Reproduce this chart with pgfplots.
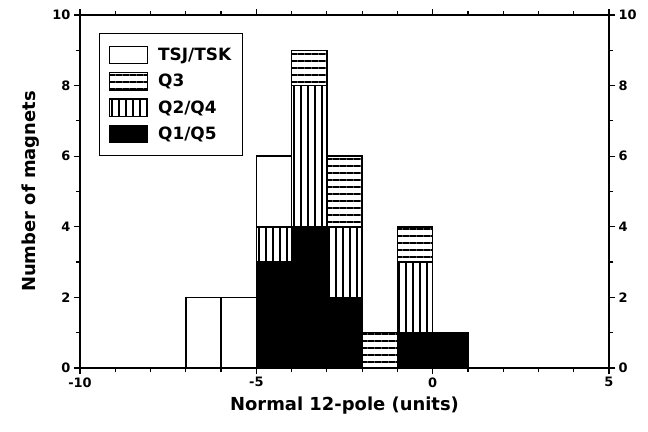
\documentclass[border=0pt]{standalone}
\usepackage{fontspec}
\setmainfont{DejaVu Sans}
\usepackage{pgfplots}
\pgfplotsset{compat=1.18}
\usetikzlibrary{patterns.meta}

\pgfplotsset{
  histframe/.style={
    scale only axis, width=529bp, height=353bp,
    at={(0,0)}, anchor=south west,
    xmin=-10, xmax=5, ymin=0, ymax=10,
    xtick={-10,-5,0,5}, minor x tick num=4,
    ytick={0,2,...,10}, minor y tick num=1,
    tick align=outside,
    major tick length=6bp, minor tick length=4bp,
    axis line style={line width=1.4bp},
    every tick/.style={black, line width=1.2bp},
    /pgf/number format/assume math mode=true,
    ticklabel style={font=\fontsize{13}{15}\selectfont\bfseries},
  },
}

\begin{document}
\begin{tikzpicture}
\useasboundingbox (-80bp,-64bp) rectangle (568bp,368bp);

\begin{axis}[
  histframe,
  ybar stacked, bar width=1,
  xlabel={Normal 12-pole (units)},
  ylabel={Number of magnets},
  label style={font=\fontsize{18}{20}\selectfont\bfseries},
  xlabel style={at={(axis description cs:0.5,-0.105)}, anchor=center},
  ylabel style={at={(axis description cs:-0.094,0.5)}, anchor=center},
  reverse legend,
  legend cell align=left,
  legend style={at={(axis description cs:0.036,0.949)}, anchor=north west,
    draw=black, line width=1.4bp, inner xsep=9bp, inner ysep=12bp,
    row sep=8bp, column sep=8bp,
    font=\fontsize{17}{18}\selectfont\bfseries},
  legend image code/.code={\draw[#1, line width=1.4bp] (0bp,-8.5bp) rectangle (38bp,8.5bp);},
]
% Q1/Q5
\addplot[draw=black, line width=1.5bp, fill=black] coordinates {
  (-6.5,0) (-5.5,0) (-4.5,3) (-3.5,4) (-2.5,2) (-1.5,0) (-0.5,1) (0.5,1)};
% Q2/Q4
\addplot[draw=black, line width=1.5bp, fill=white,
  postaction={pattern={Lines[angle=90, distance=7bp, line width=2bp]}}] coordinates {
  (-6.5,0) (-5.5,0) (-4.5,1) (-3.5,4) (-2.5,2) (-1.5,0) (-0.5,2) (0.5,0)};
% Q3
\addplot[draw=black, line width=1.5bp, fill=white,
  postaction={pattern={Lines[angle=0, distance=7bp, line width=2bp]}}] coordinates {
  (-6.5,0) (-5.5,0) (-4.5,0) (-3.5,1) (-2.5,2) (-1.5,1) (-0.5,1) (0.5,0)};
% TSJ/TSK
\addplot[draw=black, line width=1.5bp, fill=white] coordinates {
  (-6.5,2) (-5.5,2) (-4.5,2) (-3.5,0) (-2.5,0) (-1.5,0) (-0.5,0) (0.5,0)};
\legend{Q1/Q5, Q2/Q4, Q3, TSJ/TSK}
\end{axis}

\begin{axis}[
  histframe,
  axis x line=none,
  axis y line*=right,
]
\end{axis}
\end{tikzpicture}
\end{document}
